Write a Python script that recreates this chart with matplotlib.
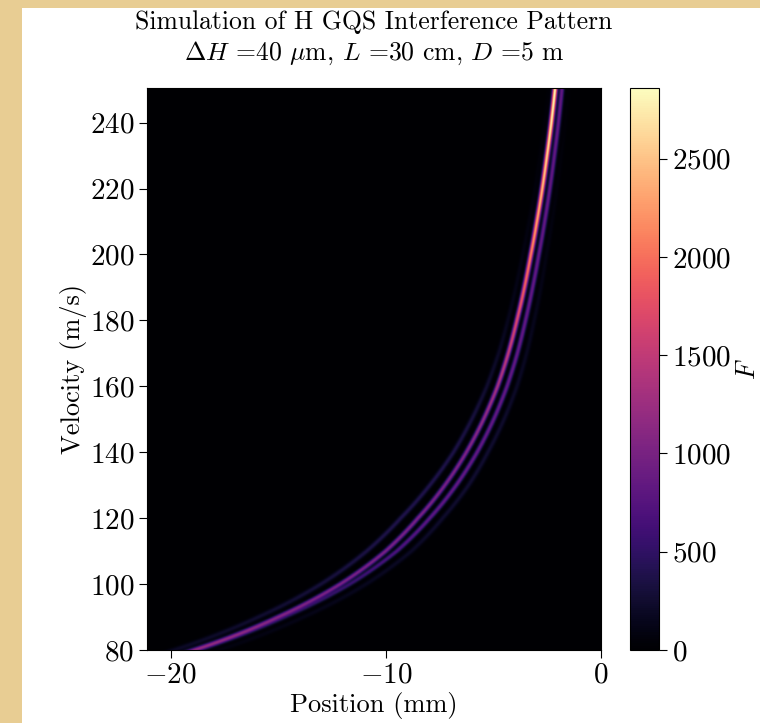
"""
Simulated H GQS interference pattern: intensity vs position and velocity.
"""

import numpy as np
import matplotlib
matplotlib.use("Agg")
import matplotlib.pyplot as plt
from matplotlib.patches import Rectangle

# Ridge positions (velocity in m/s, position in mm)
VELOCITY = np.array([80, 90, 100, 110, 120, 130, 140, 150, 160,
                     170, 180, 190, 200, 210, 220, 230, 240, 250])
MAIN_POS = np.array([-18.9, -15.0, -12.1, -10.0, -8.5, -7.25, -6.25, -5.45, -4.8,
                     -4.3, -3.9, -3.55, -3.25, -2.97, -2.72, -2.5, -2.3, -2.13])
MAIN_PEAK = np.array([1000, 1000, 1000, 1000, 1000, 1000, 1050, 1150, 1300,
                      1500, 1700, 1900, 2100, 2300, 2450, 2600, 2750, 2850])
# neighbouring fringes: offset from main ridge (mm) and peak value
RIGHT_OFFSET = np.array([0.25, 0.35, 0.45, 0.52, 0.55, 0.53, 0.5, 0.47, 0.44,
                         0.42, 0.4, 0.38, 0.37, 0.36, 0.35, 0.34, 0.33, 0.32])
RIGHT_PEAK = np.array([300, 400, 550, 700, 800, 850, 850, 850, 850,
                       850, 850, 850, 850, 850, 850, 850, 850, 850])
LEFT_OFFSET = np.array([-0.9, -0.9, -0.9, -0.88, -0.8, -0.7, -0.6, -0.55, -0.5,
                        -0.45, -0.42, -0.4, -0.38, -0.36, -0.34, -0.33, -0.32, -0.3])
LEFT_PEAK = np.array([200, 250, 300, 350, 380, 380, 360, 320, 250,
                      200, 150, 120, 100, 80, 60, 50, 40, 30])
FAR_OFFSET = np.array([1.2, 1.2, 1.2, 1.2, 1.15, 1.1, 1.0, 0.95, 0.9,
                       0.85, 0.8, 0.76, 0.72, 0.7, 0.68, 0.66, 0.65, 0.64])
FAR_PEAK = np.array([80, 120, 160, 200, 230, 250, 250, 230, 200,
                     170, 150, 120, 100, 80, 60, 50, 40, 30])

X_RANGE = (-21.1, 0.0)
V_RANGE = (80, 250.5)
F_MAX = 2860


def ridge(v_grid, positions):
    """Interpolate a ridge in 1/v^2 so the curve stays smooth."""
    u = 1.0 / VELOCITY[::-1].astype(float) ** 2
    return np.interp(1.0 / v_grid ** 2, u, positions[::-1])


def build_field(x_grid, v_grid):
    field = np.zeros((len(v_grid), len(x_grid)))
    main = ridge(v_grid, MAIN_POS)
    slope = np.gradient(main, v_grid)
    # x width of a line with constant perpendicular width (in pixel ratio)
    stretch = np.sqrt(1 + (slope * 21.6 / 3.29) ** 2)
    fringes = [(np.zeros_like(MAIN_POS), MAIN_PEAK, 0.075),
               (RIGHT_OFFSET, RIGHT_PEAK, 0.075),
               (LEFT_OFFSET, LEFT_PEAK, 0.085),
               (FAR_OFFSET, FAR_PEAK, 0.085)]
    for offset, peak, width in fringes:
        centre = main + np.interp(v_grid, VELOCITY, offset)
        amp = np.interp(v_grid, VELOCITY, peak)
        sig = width * stretch
        field += amp[:, None] * np.exp(-0.5 * ((x_grid[None, :] - centre[:, None]) / sig[:, None]) ** 2)
    return field


plt.rcParams["font.family"] = ["cmr10", "DejaVu Serif"]
plt.rcParams["mathtext.fontset"] = "cm"
plt.rcParams["axes.formatter.use_mathtext"] = True
plt.rcParams["axes.unicode_minus"] = True

fig = plt.figure(figsize=(7.6, 7.23), dpi=100, facecolor="#e8cd93")
fig.patches.append(Rectangle((22 / 760, 0), 1, 1 - 8 / 723, transform=fig.transFigure,
                             facecolor="white", edgecolor="none", zorder=-10))

ax = fig.add_axes([147 / 760, 73 / 723, 454 / 760, 562 / 723])
cax = fig.add_axes([630 / 760, 73 / 723, 29 / 760, 562 / 723])

x_grid = np.linspace(X_RANGE[0], X_RANGE[1], 1000)
v_grid = np.linspace(V_RANGE[0], V_RANGE[1], 900)
F = build_field(x_grid, v_grid)

im = ax.imshow(F, extent=[X_RANGE[0], X_RANGE[1], V_RANGE[0], V_RANGE[1]],
               origin="lower", aspect="auto", cmap="magma", vmin=0, vmax=F_MAX,
               interpolation="bilinear")
ax.set_xlim(*X_RANGE)
ax.set_ylim(*V_RANGE)
ax.set_xticks([-20, -10, 0])
ax.set_yticks(range(80, 241, 20))
ax.tick_params(labelsize=21, length=6, width=0.8, pad=3)
ax.set_xlabel("Position (mm)", fontsize=19, labelpad=2)
ax.set_ylabel("Velocity (m/s)", fontsize=19, labelpad=2)
ax.set_title("Simulation of H GQS Interference Pattern\n"
             r"$\Delta H$ =40 $\mu$m, $L$ =30 cm, $D$ =5 m", fontsize=18.5, pad=20,
             linespacing=1.3)

cb = fig.colorbar(im, cax=cax)
cb.set_ticks([0, 500, 1000, 1500, 2000, 2500])
cb.ax.tick_params(labelsize=21, length=6, width=0.8, pad=3)
cb.set_label("$F$", fontsize=19, labelpad=4)

fig.savefig("out.png", dpi=100, facecolor=fig.get_facecolor())
